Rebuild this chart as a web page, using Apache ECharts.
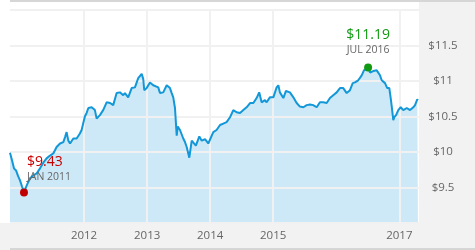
<!DOCTYPE html>
<html>
<head>
<meta charset="utf-8">
<script src="https://cdn.jsdelivr.net/npm/echarts@6/dist/echarts.min.js"></script>
<style>html,body{margin:0;padding:0;background:#fff;}#c{width:475px;height:250px;}</style>
</head>
<body>
<div id="c"></div>
<script>
const dates = ['2010-10-29','2010-11-10','2010-11-21','2010-12-03','2010-12-15','2010-12-26','2011-01-07','2011-01-18','2011-02-03','2011-02-22','2011-03-13','2011-04-02','2011-04-21','2011-05-10','2011-05-29','2011-06-18','2011-07-07','2011-07-26','2011-08-15','2011-09-03','2011-09-13','2011-09-22','2011-10-02','2011-10-12','2011-10-31','2011-11-19','2011-12-08','2011-12-18','2011-12-27','2012-01-06','2012-01-16','2012-01-26','2012-02-14','2012-03-04','2012-03-14','2012-04-02','2012-04-21','2012-05-11','2012-05-31','2012-06-18','2012-07-08','2012-07-27','2012-08-15','2012-08-25','2012-09-13','2012-10-03','2012-10-22','2012-11-10','2012-11-30','2012-12-09','2012-12-15','2012-12-29','2013-01-17','2013-02-05','2013-03-06','2013-03-16','2013-04-04','2013-04-24','2013-05-13','2013-05-23','2013-06-01','2013-06-11','2013-06-21','2013-06-27','2013-07-10','2013-07-29','2013-08-08','2013-08-18','2013-09-02','2013-09-16','2013-09-25','2013-10-10','2013-10-30','2013-11-13','2013-12-02','2013-12-21','2013-12-31','2014-01-19','2014-02-07','2014-02-27','2014-03-18','2014-04-06','2014-04-26','2014-05-15','2014-06-03','2014-06-23','2014-07-12','2014-07-31','2014-08-20','2014-09-08','2014-09-27','2014-10-12','2014-10-26','2014-11-14','2014-11-24','2014-12-13','2015-01-02','2015-01-21','2015-01-31','2015-02-09','2015-03-01','2015-03-16','2015-04-08','2015-04-28','2015-05-17','2015-06-05','2015-06-25','2015-07-14','2015-08-02','2015-08-21','2015-09-10','2015-09-29','2015-10-18','2015-11-07','2015-11-26','2015-12-15','2016-01-04','2016-01-23','2016-02-02','2016-02-11','2016-03-02','2016-03-21','2016-04-06','2016-04-19','2016-05-08','2016-05-28','2016-06-10','2016-06-22','2016-07-04','2016-07-15','2016-08-03','2016-08-23','2016-09-11','2016-09-21','2016-10-10','2016-10-23','2016-11-04','2016-11-12','2016-11-19','2016-11-27','2016-12-03','2016-12-13','2016-12-26','2017-01-09','2017-01-24','2017-02-13','2017-03-04','2017-03-23','2017-04-02','2017-04-15','2017-04-19'];
const prices = [9.99,9.88,9.77,9.74,9.66,9.60,9.51,9.43,9.53,9.63,9.67,9.70,9.77,9.85,9.91,9.95,9.98,10.07,10.12,10.14,10.21,10.28,10.16,10.12,10.19,10.19,10.26,10.31,10.40,10.50,10.55,10.62,10.63,10.59,10.47,10.52,10.59,10.70,10.69,10.66,10.83,10.84,10.80,10.83,10.77,10.90,10.91,11.04,11.10,11.03,10.87,10.90,10.98,10.94,10.91,10.83,10.84,10.94,10.90,10.83,10.77,10.62,10.23,10.36,10.31,10.19,10.14,10.07,9.92,10.16,10.16,10.09,10.22,10.16,10.18,10.12,10.12,10.28,10.31,10.38,10.40,10.42,10.49,10.59,10.56,10.55,10.59,10.63,10.69,10.69,10.76,10.84,10.70,10.73,10.70,10.77,10.77,10.91,10.94,10.84,10.76,10.86,10.84,10.77,10.69,10.64,10.63,10.66,10.67,10.66,10.63,10.70,10.70,10.69,10.76,10.80,10.84,10.90,10.91,10.90,10.83,10.87,10.97,10.98,11.01,11.08,11.15,11.17,11.19,11.12,11.14,11.15,11.08,11.01,10.97,10.90,10.90,10.76,10.62,10.45,10.49,10.52,10.59,10.63,10.59,10.62,10.59,10.63,10.66,10.74,10.73];
const yearTicks = ['2012-01-01','2013-01-01','2014-01-01','2015-01-01','2017-01-01'];
const axisStart = '2010-10-29';
const axisEnd = '2017-04-25';
const monthNames = ['JAN','FEB','MAR','APR','MAY','JUN','JUL','AUG','SEP','OCT','NOV','DEC'];

const FONT = 'Open Sans';
const ts = d => +new Date(d + 'T00:00:00');
const data = dates.map((d, i) => [ts(d), prices[i]]);
let iMin = 0, iMax = 0;
prices.forEach((v, i) => { if (v < prices[iMin]) iMin = i; if (v > prices[iMax]) iMax = i; });
function fmtLabel(i) {
  const d = new Date(dates[i] + 'T00:00:00');
  return '{v|$' + prices[i].toFixed(2) + '}\n{d|' + monthNames[d.getMonth()] + ' ' + d.getFullYear() + '}';
}
function rich(color) {
  return {
    v: { fontSize: 14, color: color, lineHeight: 17, fontFamily: FONT },
    d: { fontSize: 10.5, color: '#666', lineHeight: 13, fontFamily: FONT }
  };
}

const chart = echarts.init(document.getElementById('c'), null, { renderer: 'canvas' });
chart.setOption({
  animation: false,
  textStyle: { fontFamily: FONT },
  grid: { left: 10, right: 56, top: 10, bottom: 27 },
  graphic: { elements: [
    { type: 'rect', z: 1, shape: { x: 419, y: 2, width: 56, height: 221 }, style: { fill: '#f2f2f2' } },
    { type: 'rect', z: 1, shape: { x: 0, y: 223, width: 475, height: 27 }, style: { fill: '#f2f2f2' } },
    { type: 'rect', z: 1, shape: { x: 10, y: 0, width: 465, height: 2 }, style: { fill: '#d6d6d6' } },
    { type: 'rect', z: 1, shape: { x: 10, y: 248, width: 465, height: 2 }, style: { fill: '#d6d6d6' } }
  ]},
  xAxis: {
    type: 'value', z: 3,
    min: ts(axisStart), max: ts(axisEnd),
    axisLine: { show: false }, axisTick: { show: false }, splitLine: { show: false },
    axisLabel: {
      customValues: yearTicks.map(ts),
      formatter: v => String(new Date(v).getFullYear()),
      color: '#666', fontSize: 11.5, margin: 7, fontFamily: FONT
    }
  },
  yAxis: {
    type: 'value', position: 'right', z: 3,
    min: 9, max: 12, interval: 0.5,
    axisLine: { show: false }, axisTick: { show: false },
    splitLine: { lineStyle: { color: '#f1f1f1', width: 2 } },
    axisLabel: {
      formatter: v => (v <= 9 || v >= 12) ? '' : '$' + v,
      align: 'center', margin: 24, color: '#666', fontSize: 11.5, fontFamily: FONT
    }
  },
  series: [
    {
      type: 'line', data: data, symbol: 'none', z: 2,
      lineStyle: { width: 0 },
      areaStyle: { color: '#cde9f7', opacity: 1 },
      markLine: {
        silent: true, symbol: 'none', label: { show: false },
        lineStyle: { color: '#f1f1f1', width: 2, type: 'solid' },
        data: yearTicks.map(d => ({ xAxis: ts(d) }))
      }
    },
    {
      type: 'line', data: data, symbol: 'none', z: 10,
      lineStyle: { color: '#1297d8', width: 2 }
    },
    {
      type: 'scatter', z: 12, symbol: 'circle', symbolSize: 8,
      data: [
        { value: data[iMin], itemStyle: { color: '#c00000', opacity: 1 },
          label: { show: true, position: 'top', distance: 4.5, align: 'left', offset: [3, 0],
                   formatter: () => fmtLabel(iMin), rich: rich('#c80000') } },
        { value: data[iMax], itemStyle: { color: '#119911', opacity: 1 },
          label: { show: true, position: 'top', distance: 6.5, align: 'center',
                   formatter: () => fmtLabel(iMax), rich: rich('#119911') } }
      ]
    }
  ]
});
</script>
</body>
</html>
